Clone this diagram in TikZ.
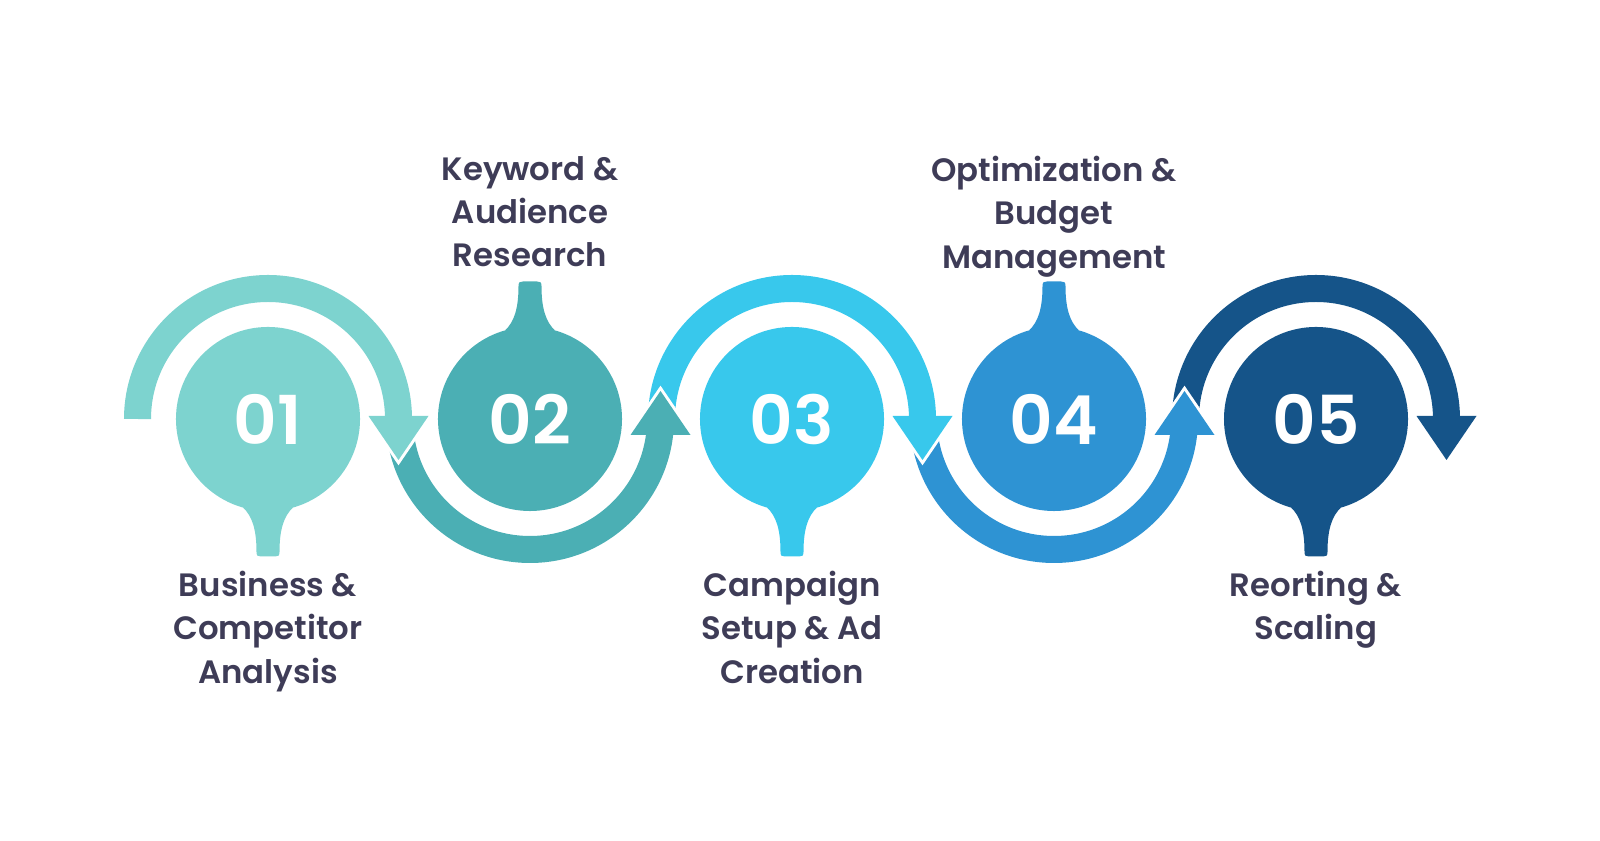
\documentclass[tikz,border=0pt]{standalone}
\usepackage{fontspec}
\setmainfont{Poppins}[BoldFont={Poppins SemiBold}]
\usetikzlibrary{calc}
\definecolor{cone}{RGB}{125,211,207}
\definecolor{ctwo}{RGB}{75,175,180}
\definecolor{cthree}{RGB}{56,200,236}
\definecolor{cfour}{RGB}{46,147,211}
\definecolor{cfive}{RGB}{21,84,137}
\definecolor{ctext}{RGB}{62,60,87}

\begin{document}
\begin{tikzpicture}[x=0.025cm, y=0.025cm,
   stage/.style={circle, minimum size=4.6cm, inner sep=0pt, text=white,
     font=\fontsize{48}{48}\selectfont\bfseries},
   caption/.style={anchor=north, align=center, inner sep=0pt, text=ctext,
     font=\fontsize{23}{30.8}\selectfont\bfseries},
   band/.style={line width=0.675cm},
   rim/.style={white, line width=0.15cm, line join=miter}]
  \useasboundingbox (0,0) rectangle (1600,841);
  \node[stage, fill=cone] (c1) at (268,422) {01};
  \node[stage, fill=ctwo] (c2) at (530,422) {02};
  \node[stage, fill=cthree] (c3) at (792,422) {03};
  \node[stage, fill=cfour] (c4) at (1054,422) {04};
  \node[stage, fill=cfive] (c5) at (1316,422) {05};
  \foreach \n/\s/\c in {c1/1/cone,c2/-1/ctwo,c3/1/cthree,c4/-1/cfour,c5/1/cfive}
    \fill[\c, shift={(\n.center)}, yscale=\s] (-25,-88.5)
      .. controls (-16,-97) and (-11.5,-110) .. (-11.5,-133)
      .. controls (-11.5,-137) and (-10,-137.5) .. (-7,-137.5) -- (7,-137.5)
      .. controls (10,-137.5) and (11.5,-137) .. (11.5,-133)
      .. controls (11.5,-110) and (16,-97) .. (25,-88.5) -- cycle;
  \foreach \n/\a/\c in {c1/0/cone,c2/360/ctwo,c3/0/cthree,c4/360/cfour,c5/0/cfive}
    \draw[band, \c] ($(\n)+(-130.5,0)$) arc[start angle=180, end angle=\a, radius=130.5];
  \foreach \n/\b/\t/\c in {c1/3/-41/cone,c2/-16/28/ctwo,c3/3/-41/cthree,c4/-16/28/cfour,c5/3/-41/cfive}{
    \draw[rim] ($(\n)+(100.5,\b)$) -- ($(\n)+(130.5,\t)$) -- ($(\n)+(160.5,\b)$);
    \fill[\c] ($(\n)+(100.5,\b)$) -- ($(\n)+(130.5,\t)$) -- ($(\n)+(160.5,\b)$) -- cycle;
  }
  \node[caption] (t1) at (268,270) {Business \&\\Competitor\\Analysis};
  \node[caption] (t2) at (530,685) {Keyword \&\\Audience\\Research};
  \node[caption] (t3) at (792,270) {Campaign\\Setup \& Ad\\Creation};
  \node[caption] (t4) at (1054,685) {Optimization \&\\Budget\\Management};
  \node[caption] (t5) at (1316,270) {Reorting \&\\Scaling};
\end{tikzpicture}
\end{document}
